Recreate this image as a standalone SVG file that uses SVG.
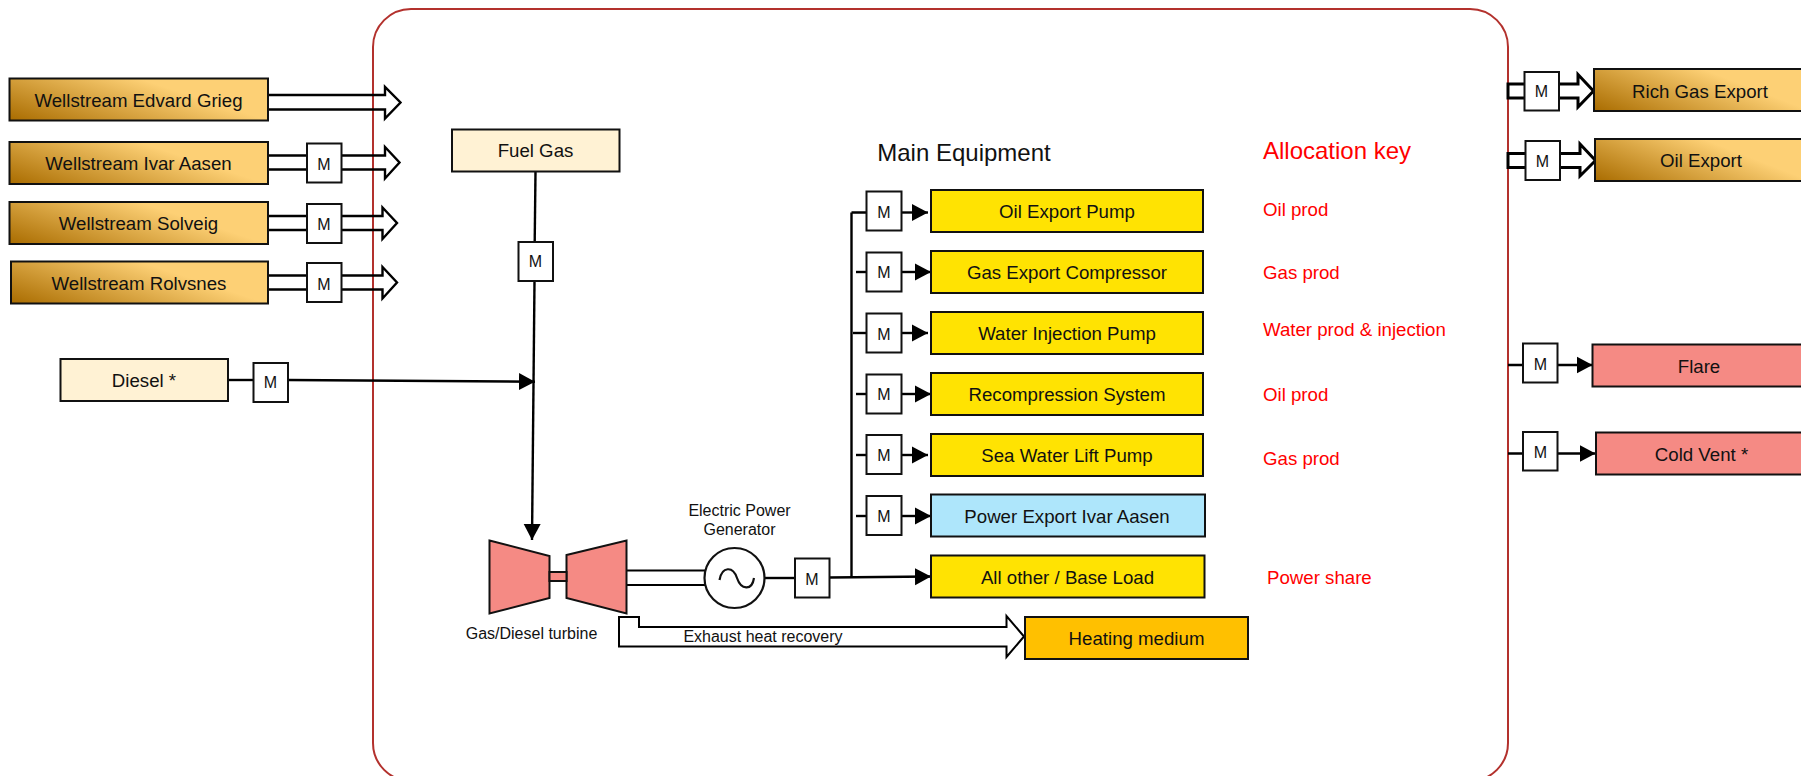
<svg xmlns="http://www.w3.org/2000/svg" width="1801" height="776" viewBox="0 0 1801 776">
<style>
text{font-family:"Liberation Sans",Arial,sans-serif;font-size:18.67px;fill:#111;text-anchor:middle}
.b{stroke:#111;stroke-width:2}
.m{fill:#fff;stroke:#111;stroke-width:2}
.t{font-size:16px}
.r{fill:#ff0000;text-anchor:start}
.g{fill:url(#brown)}.c{fill:#fff2d4}.y{fill:#ffe302}.s{fill:#f58a84}
.l{fill:none;stroke:#000;stroke-width:2.4}
.d{fill:none;stroke:#000;stroke-width:2.4;stroke-linejoin:miter}
.e{fill:none;stroke:#000;stroke-width:3;stroke-linejoin:miter}
.h{fill:none;stroke:#000;stroke-width:2;stroke-linejoin:miter}
.a{marker-end:url(#head)}
</style>
<defs>
<linearGradient id="brown" x1="0" y1="1" x2="0.8" y2="0.6"><stop offset="0" stop-color="#a96c00"/><stop offset="1" stop-color="#fdd075"/></linearGradient>
<marker id="head" markerUnits="userSpaceOnUse" markerWidth="17" markerHeight="18" refX="16" refY="9" orient="auto"><path d="M0 0.5L16 9L0 17.500z" fill="#000"/></marker>
</defs>
<rect id="boundary" x="373" y="9" width="1135" height="772" rx="38" ry="38" fill="none" stroke="#b3312d" stroke-width="2"/>
<g id="connectors">
<path class="d" d="M268 95H385V87L400.5 102.500L385 118.500V109.500H268"/>
<path class="d" d="M268 155.500H385V147L399.500 162.500L385 178.500V169.500H268"/>
<path class="d" d="M268 216H382.500V207.500L397 223L382.500 239V230H268"/>
<path class="d" d="M268 275.500H382.500V267L397 282.500L382.500 298.500V289.500H268"/>
<path class="e" d="M1508 84H1578V74.500L1593.500 91L1578 107V98H1508Z"/>
<path class="e" d="M1508 153.500H1580V144L1595.500 160.500L1580 176V167.500H1508Z"/>
<path class="l a" d="M1508 365H1592.500"/>
<path class="l a" d="M1508 453.500H1595.500"/>
<path class="l" d="M228 380H254"/>
<path class="l a" d="M288 380L535 381.700"/>
<path class="l" d="M535.500 171.500L534.700 242"/>
<path class="l a" d="M534.500 281L532 540"/>
<path class="h" d="M626 570.500H706M626 585H706"/>
<path class="l" d="M765 578H796"/>
<path class="l a" d="M829 577.500L931 576.500"/>
<path class="l" d="M851.500 577V212.500M851.500 212.500H867"/>
<path class="l a" d="M901 212.500H928"/>
<path class="l" d="M856 272H867"/><path class="l a" d="M901 272H931"/>
<path class="l" d="M853 333H867"/><path class="l a" d="M901 333H928"/>
<path class="l" d="M856 394H867"/><path class="l a" d="M901 394H931"/>
<path class="l" d="M856 455H867"/><path class="l a" d="M901 455H928"/>
<path class="l" d="M856 516H867"/><path class="l a" d="M901 516H931"/>
<path class="h" d="M619 617H639V627H1006.500V616L1024 636.500L1006.500 657V646.500H619Z"/>
</g>
<g id="wellstream-edvard-grieg"><rect class="b g" x="9.500" y="78.500" width="258.500" height="42"/><text x="138.500" y="107">Wellstream Edvard Grieg</text></g>
<g id="wellstream-ivar-aasen"><rect class="b g" x="9.500" y="142" width="258.500" height="42"/><text x="138.500" y="170">Wellstream Ivar Aasen</text></g>
<g id="wellstream-solveig"><rect class="b g" x="9.500" y="202" width="258.500" height="42"/><text x="138.500" y="230">Wellstream Solveig</text></g>
<g id="wellstream-rolvsnes"><rect class="b g" x="11" y="261.500" width="257" height="42"/><text x="139" y="290">Wellstream Rolvsnes</text></g>
<g id="diesel"><rect class="b c" x="60.500" y="359" width="167.500" height="42"/><text x="144" y="387">Diesel *</text></g>
<g id="fuel-gas"><rect class="b c" x="452" y="129.500" width="167.500" height="42"/><text x="535.500" y="157">Fuel Gas</text></g>
<g id="m-ivar"><rect class="m" x="307" y="143.500" width="34.500" height="39"/><text class="t" x="324" y="169.500">M</text></g>
<g id="m-solveig"><rect class="m" x="307" y="204" width="34.500" height="39"/><text class="t" x="324" y="229.500">M</text></g>
<g id="m-rolvsnes"><rect class="m" x="307" y="263" width="34.500" height="39"/><text class="t" x="324" y="289.500">M</text></g>
<g id="m-diesel"><rect class="m" x="253.500" y="363" width="34.500" height="39"/><text class="t" x="270.500" y="388">M</text></g>
<g id="m-fuel"><rect class="m" x="518.500" y="242" width="34.500" height="39"/><text class="t" x="535.500" y="267">M</text></g>
<g id="turbine"><path class="b s" d="M489.500 540.500L549.500 556V598L489.500 613.500Z"/><path class="b s" d="M566.500 555L626.500 540.500V613.500L566.500 598Z"/><rect class="b s" x="549.500" y="572" width="17" height="9"/><text class="t" x="531.500" y="639">Gas/Diesel turbine</text></g>
<g id="generator"><circle cx="734.500" cy="578" r="30" fill="#fff" stroke="#111" stroke-width="2.200"/><path d="M719.500 580C722 566 733 566 737 578C741 590 752 591 754 578" fill="none" stroke="#111" stroke-width="2.200"/><text class="t" x="739.500" y="516">Electric Power</text><text class="t" x="739.500" y="535">Generator</text></g>
<g id="m-generator"><rect class="m" x="795" y="558.500" width="34.500" height="39"/><text class="t" x="812" y="584.500">M</text></g>
<text id="main-equipment" x="964" y="161" style="font-size:24px">Main Equipment</text>
<text id="allocation-key" class="r" x="1263" y="159" style="font-size:24px">Allocation key</text>
<g id="m-1"><rect class="m" x="866.500" y="191.500" width="35" height="39"/><text class="t" x="884" y="217.500">M</text></g>
<g id="m-2"><rect class="m" x="866.500" y="252.500" width="35" height="39"/><text class="t" x="884" y="278">M</text></g>
<g id="m-3"><rect class="m" x="866.500" y="313.500" width="35" height="39"/><text class="t" x="884" y="339.500">M</text></g>
<g id="m-4"><rect class="m" x="866.500" y="374.500" width="35" height="39"/><text class="t" x="884" y="400">M</text></g>
<g id="m-5"><rect class="m" x="866.500" y="435" width="35" height="39"/><text class="t" x="884" y="461">M</text></g>
<g id="m-6"><rect class="m" x="866.500" y="496" width="35" height="39"/><text class="t" x="884" y="522">M</text></g>
<g id="oil-export-pump"><rect class="b y" x="931" y="190" width="272" height="42"/><text x="1067" y="218">Oil Export Pump</text></g>
<g id="gas-export-compressor"><rect class="b y" x="931" y="251" width="272" height="42"/><text x="1067" y="279">Gas Export Compressor</text></g>
<g id="water-injection-pump"><rect class="b y" x="931" y="312" width="272" height="42"/><text x="1067" y="340">Water Injection Pump</text></g>
<g id="recompression-system"><rect class="b y" x="931" y="373" width="272" height="42"/><text x="1067" y="401">Recompression System</text></g>
<g id="sea-water-lift-pump"><rect class="b y" x="931" y="434" width="272" height="42"/><text x="1067" y="462">Sea Water Lift Pump</text></g>
<g id="power-export-ivar-aasen"><rect class="b" fill="#aee6fb" x="931" y="494.500" width="274" height="42"/><text x="1067" y="523">Power Export Ivar Aasen</text></g>
<g id="all-other-base-load"><rect class="b y" x="931" y="555.500" width="273.500" height="42"/><text x="1067.500" y="584">All other / Base Load</text></g>
<g id="heating-medium"><rect class="b" fill="#ffc000" x="1025" y="617" width="223" height="42"/><text x="1136.500" y="645">Heating medium</text></g>
<g id="exhaust-label"><text class="t" x="763" y="642">Exhaust heat recovery</text></g>
<g id="allocation-labels">
<text class="r" x="1263" y="216">Oil prod</text>
<text class="r" x="1263" y="279">Gas prod</text>
<text class="r" x="1263" y="336">Water prod &amp; injection</text>
<text class="r" x="1263" y="401">Oil prod</text>
<text class="r" x="1263" y="465">Gas prod</text>
<text class="r" x="1267" y="584">Power share</text>
</g>
<g id="m-rich"><rect class="m" x="1524.500" y="72" width="34.500" height="38.500"/><text class="t" x="1541.500" y="97">M</text></g>
<g id="m-oil"><rect class="m" x="1525.500" y="141" width="34.500" height="39"/><text class="t" x="1542.500" y="166.500">M</text></g>
<g id="m-flare"><rect class="m" x="1523" y="343.500" width="34.500" height="39"/><text class="t" x="1540.300" y="369.500">M</text></g>
<g id="m-vent"><rect class="m" x="1523" y="432" width="34.500" height="38.500"/><text class="t" x="1540.300" y="457.500">M</text></g>
<g id="rich-gas-export"><rect class="b g" x="1594" y="69" width="217" height="42"/><text x="1700" y="97.500">Rich Gas Export</text></g>
<g id="oil-export"><rect class="b g" x="1595" y="139" width="216" height="42"/><text x="1701" y="167">Oil Export</text></g>
<g id="flare"><rect class="b s" x="1592.500" y="344.500" width="218" height="42"/><text x="1699" y="373">Flare</text></g>
<g id="cold-vent"><rect class="b s" x="1596" y="432.500" width="215" height="42"/><text x="1701.500" y="461">Cold Vent *</text></g>
</svg>
